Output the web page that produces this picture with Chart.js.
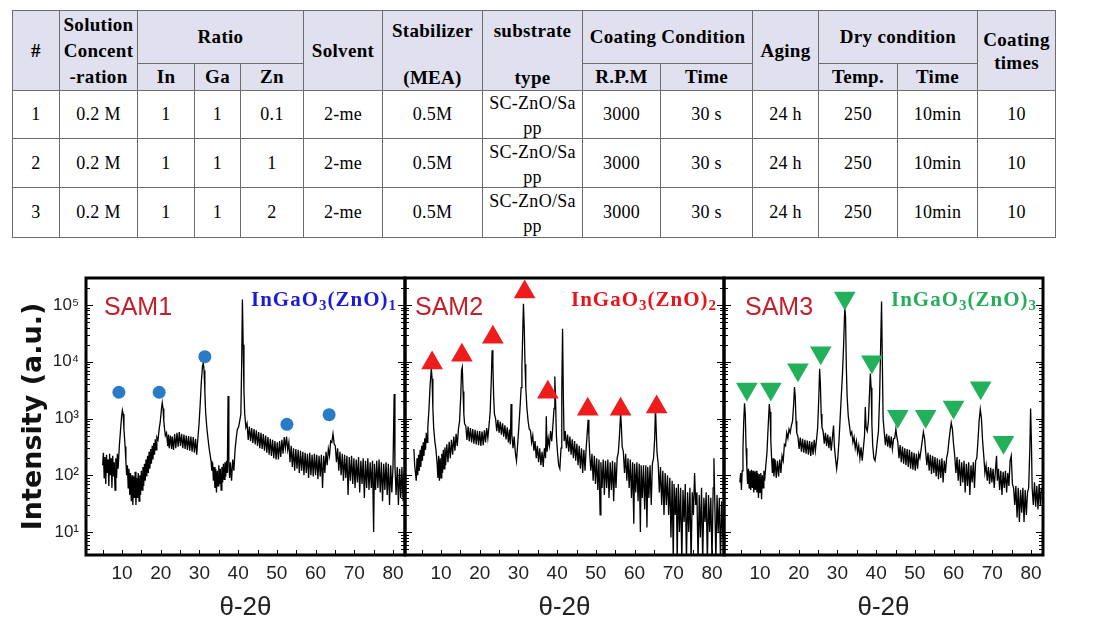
<!DOCTYPE html>
<html lang="en">
<head>
<meta charset="utf-8">
<title>IGZO solution conditions &amp; XRD</title>
<script src="https://cdn.jsdelivr.net/npm/chart.js"></script>
<style>
  body{margin:0;width:1106px;height:641px;background:#fff;position:relative;overflow:hidden;}
  table{position:absolute;left:12px;top:10px;width:1043px;border-collapse:collapse;table-layout:fixed;
        font-family:"Liberation Serif","Times New Roman",serif;color:#000;}
  th,td{border:1px solid #6c6c6c;padding:0;text-align:center;vertical-align:middle;letter-spacing:.3px;}
  th{background:#e1e0ef;font-weight:bold;font-size:19px;line-height:22px;}
  td{font-size:18px;background:#fff;}
  th.sol{vertical-align:top;line-height:26px;padding-top:1px;}
  th.split{vertical-align:top;line-height:20px;padding-top:10px;}
  th.split .lo{margin-top:27px;}
  th.ct{line-height:23px;}
  td .sub{line-height:25px;height:44px;margin-top:-3px;overflow:visible;}
  canvas{position:absolute;top:260px;}
  #c1{left:0;} #c2{left:390px;} #c3{left:709px;}
  .sam{position:absolute;top:294px;font-family:"Liberation Sans",Arial,sans-serif;font-size:25px;line-height:25px;color:#c41e2a;z-index:2;}
  .phase{position:absolute;top:289px;font-family:"Liberation Serif","Times New Roman",serif;font-weight:bold;
         font-size:21px;line-height:21px;letter-spacing:1px;z-index:2;white-space:nowrap;}
  .phase sub{font-size:15px;vertical-align:-4px;line-height:0;}
</style>
</head>
<body>

<table id="cond">
  <colgroup>
    <col style="width:47px"><col style="width:78px"><col style="width:57px"><col style="width:46px">
    <col style="width:63px"><col style="width:79px"><col style="width:100px"><col style="width:100px">
    <col style="width:78px"><col style="width:92px"><col style="width:66px"><col style="width:79px">
    <col style="width:80px"><col style="width:78px">
  </colgroup>
  <thead>
    <tr style="height:53px">
      <th rowspan="2">#</th>
      <th rowspan="2" class="sol">Solution<br>Concent<br>-ration</th>
      <th colspan="3">Ratio</th>
      <th rowspan="2">Solvent</th>
      <th rowspan="2" class="split"><div>Stabilizer</div><div class="lo">(MEA)</div></th>
      <th rowspan="2" class="split"><div>substrate</div><div class="lo">type</div></th>
      <th colspan="2">Coating Condition</th>
      <th rowspan="2">Aging</th>
      <th colspan="2">Dry condition</th>
      <th rowspan="2" class="ct">Coating<br>times</th>
    </tr>
    <tr style="height:27px">
      <th>In</th><th>Ga</th><th>Zn</th><th>R.P.M</th><th>Time</th><th>Temp.</th><th>Time</th>
    </tr>
  </thead>
  <tbody id="condBody"></tbody>
</table>

<canvas id="c1" width="420" height="381"></canvas>
<canvas id="c2" width="350" height="381"></canvas>
<canvas id="c3" width="350" height="381"></canvas>

<div class="sam" style="left:104px">SAM1</div>
<div class="sam" style="left:415px">SAM2</div>
<div class="sam" style="left:745px">SAM3</div>
<div class="phase" style="right:709px;color:#1c1cd6">InGaO<sub>3</sub>(ZnO)<sub>1</sub></div>
<div class="phase" style="right:389px;color:#e8141c">InGaO<sub>3</sub>(ZnO)<sub>2</sub></div>
<div class="phase" style="right:69px;color:#27ad5c">InGaO<sub>3</sub>(ZnO)<sub>3</sub></div>

<script>
/* ── table values ─────────────────────────────────────────── */
const sampleNo      = ['1','2','3'];
const concentration = ['0.2 M','0.2 M','0.2 M'];
const ratioIn       = ['1','1','1'];
const ratioGa       = ['1','1','1'];
const ratioZn       = ['0.1','1','2'];
const solvent       = ['2-me','2-me','2-me'];
const stabilizer    = ['0.5M','0.5M','0.5M'];
const substrate     = ['SC-ZnO/Sa<br>pp','SC-ZnO/Sa<br>pp','SC-ZnO/Sa<br>pp'];
const spinRpm       = ['3000','3000','3000'];
const spinTime      = ['30 s','30 s','30 s'];
const aging         = ['24 h','24 h','24 h'];
const dryTemp       = ['250','250','250'];
const dryTime       = ['10min','10min','10min'];
const coatTimes     = ['10','10','10'];
const rowHeights    = [48,49,50];

/* ── XRD patterns, [2θ, intensity] ────────────────────────── */
const sam1Pattern = [
  [5.0,150],[5.2,250],[5.4,90],[5.6,210],[5.8,70],[6.0,230],[6.2,110],[6.4,190],[6.6,65],[6.8,240],
  [7.0,100],[7.2,200],[7.4,60],[7.6,220],[7.8,95],[8.0,170],[8.2,55],[8.4,200],[8.6,90],[8.8,240],
  [9.0,130],[9.3,320],[9.6,600],[9.9,1100],[10.1,1400],[10.3,1200],[10.5,650],[10.8,320],[11.0,180],[11.2,100],
  [11.4,150],[11.6,60],[11.8,130],[12.0,45],[12.2,110],[12.4,35],[12.6,100],[12.8,30],[13.0,95],[13.2,40],
  [13.4,115],[13.6,30],[13.8,90],[14.0,40],[14.2,110],[14.4,35],[14.6,100],[14.8,45],[15.0,120],[15.2,55],
  [15.4,140],[15.6,65],[15.8,160],[16.0,80],[16.2,190],[16.4,95],[16.6,220],[16.8,110],[17.0,260],[17.2,130],
  [17.4,290],[17.6,160],[17.8,330],[18.0,190],[18.2,370],[18.4,230],[18.6,430],[18.8,280],[19.0,470],[19.3,420],
  [19.6,650],[19.9,900],[20.2,1500],[20.4,1900],[20.6,1500],[20.8,900],[21.0,650],[21.2,500],[21.5,560],[21.8,330],
  [22.0,520],[22.2,300],[22.5,500],[22.8,290],[23.0,480],[23.3,280],[23.6,530],[23.9,300],[24.2,560],[24.5,320],
  [24.8,580],[25.1,330],[25.4,540],[25.7,300],[26.0,520],[26.3,290],[26.6,500],[26.9,280],[27.2,490],[27.5,270],
  [27.8,480],[28.1,260],[28.4,470],[28.7,250],[29.0,440],[29.3,230],[29.6,450],[29.9,800],[30.2,1800],[30.5,4500],
  [30.8,8500],[31.0,9500],[31.2,7000],[31.4,3000],[31.6,1300],[31.9,700],[32.2,450],[32.5,300],[32.8,220],[33.0,180],
  [33.2,120],[33.4,170],[33.6,80],[33.8,140],[34.0,60],[34.2,130],[34.4,50],[34.6,120],[34.8,65],[35.0,150],
  [35.2,70],[35.4,130],[35.6,55],[35.8,140],[36.0,75],[36.2,160],[36.4,85],[36.6,170],[36.8,95],[37.0,180],
  [37.2,110],[37.4,2500],[37.6,150],[37.8,90],[38.0,170],[38.3,80],[38.6,190],[38.9,120],[39.2,280],[39.5,450],
  [39.8,650],[40.1,700],[40.4,900],[40.7,1200],[40.9,8000],[41.1,125000],[41.3,20000],[41.5,3000],[41.7,1200],[42.0,700],
  [42.3,820],[42.6,420],[42.9,720],[43.2,400],[43.5,680],[43.8,370],[44.1,650],[44.4,350],[44.7,620],[45.0,330],
  [45.3,580],[45.6,300],[45.9,560],[46.2,290],[46.5,530],[46.8,270],[47.1,500],[47.4,250],[47.7,470],[48.0,230],
  [48.3,440],[48.6,220],[48.9,420],[49.2,200],[49.5,400],[49.8,190],[50.1,380],[50.4,190],[50.7,400],[51.0,210],
  [51.3,420],[51.6,240],[51.9,470],[52.2,300],[52.5,480],[52.8,280],[53.1,380],[53.4,170],[53.7,330],[54.0,140],
  [54.3,300],[54.6,120],[54.9,290],[55.2,130],[55.5,280],[55.8,110],[56.1,270],[56.4,120],[56.7,260],[57.0,100],
  [57.3,250],[57.6,110],[57.9,240],[58.2,90],[58.5,250],[58.8,100],[59.1,230],[59.4,95],[59.7,240],[60.0,100],
  [60.3,230],[60.6,85],[60.9,220],[61.2,95],[61.5,230],[61.8,60],[62.1,220],[62.4,110],[62.7,260],[63.0,150],
  [63.3,290],[63.6,220],[63.9,400],[64.2,380],[64.5,540],[64.8,360],[65.1,330],[65.4,170],[65.7,300],[66.0,120],
  [66.3,260],[66.6,100],[66.9,240],[67.2,80],[67.5,230],[67.8,90],[68.1,220],[68.4,45],[68.7,210],[69.0,80],
  [69.3,220],[69.6,70],[69.9,200],[70.2,60],[70.5,190],[70.8,75],[71.1,210],[71.4,50],[71.7,180],[72.0,70],
  [72.3,200],[72.6,40],[72.9,180],[73.2,60],[73.5,200],[73.8,55],[74.1,170],[74.4,60],[74.7,180],[75.0,10],
  [75.2,160],[75.5,55],[75.8,180],[76.1,60],[76.4,190],[76.7,50],[77.0,170],[77.3,35],[77.6,160],[77.9,55],
  [78.2,170],[78.5,45],[78.8,160],[79.1,30],[79.4,150],[79.7,50],[80.0,140],[80.3,2700],[80.5,150],[80.8,45],
  [81.1,140],[81.4,30],[81.7,130],[82.0,40],[82.3,140],[82.6,35],[82.9,120]
];

const sam2Pattern = [
  [3.0,290],[3.2,150],[3.4,110],[3.6,80],[3.8,200],[4.0,100],[4.2,230],[4.4,120],[4.6,280],[4.8,140],
  [5.0,330],[5.2,180],[5.4,380],[5.6,220],[5.8,450],[6.0,280],[6.2,560],[6.4,380],[6.6,700],[6.9,1500],
  [7.2,4000],[7.5,7500],[7.7,5000],[7.9,1500],[8.1,700],[8.4,400],[8.7,280],[9.0,160],[9.2,90],[9.4,220],
  [9.6,80],[9.8,200],[10.0,90],[10.2,240],[10.4,110],[10.6,280],[10.8,130],[11.0,310],[11.2,150],[11.5,350],
  [11.8,170],[12.1,390],[12.4,200],[12.7,420],[13.0,230],[13.3,480],[13.6,270],[13.9,540],[14.2,330],[14.5,650],
  [14.8,900],[15.1,2500],[15.3,7000],[15.5,8000],[15.7,3000],[15.9,1200],[16.1,800],[16.4,750],[16.7,420],[17.0,720],
  [17.3,400],[17.6,680],[17.9,380],[18.2,650],[18.5,360],[18.8,630],[19.1,350],[19.4,610],[19.7,340],[20.0,600],
  [20.3,330],[20.6,590],[20.9,340],[21.2,620],[21.5,380],[21.8,680],[22.1,450],[22.4,750],[22.7,1300],[23.0,5000],
  [23.2,16000],[23.4,9000],[23.6,2500],[23.8,1200],[24.1,1000],[24.4,600],[24.7,950],[25.0,560],[25.3,880],[25.6,520],
  [25.9,820],[26.2,480],[26.5,760],[26.8,430],[27.1,700],[27.4,380],[27.7,640],[27.9,350],[28.1,1800],[28.3,520],
  [28.6,300],[28.9,480],[29.2,250],[29.5,180],[29.8,350],[30.1,700],[30.4,1500],[30.7,3500],[30.9,8000],[31.1,30000],
  [31.3,105000],[31.5,40000],[31.7,9000],[31.9,3500],[32.2,1500],[32.5,900],[32.8,650],[33.1,620],[33.4,380],[33.7,500],
  [34.0,270],[34.3,400],[34.6,200],[34.9,330],[35.2,170],[35.5,300],[35.8,150],[36.1,260],[36.4,140],[36.7,300],
  [37.0,200],[37.2,1100],[37.4,260],[37.7,450],[38.0,330],[38.3,600],[38.6,400],[38.9,750],[39.2,1500],[39.4,5500],
  [39.6,2000],[39.8,500],[40.1,250],[40.4,150],[40.7,130],[41.0,300],[41.2,3000],[41.4,38000],[41.6,2500],[41.8,400],
  [42.1,600],[42.4,300],[42.7,520],[43.0,260],[43.3,480],[43.6,230],[43.9,430],[44.2,200],[44.5,400],[44.8,180],
  [45.1,360],[45.4,150],[45.7,330],[46.0,130],[46.3,300],[46.6,110],[46.9,280],[47.2,120],[47.5,300],[47.8,600],
  [48.0,950],[48.2,500],[48.4,250],[48.7,120],[49.0,240],[49.3,80],[49.6,220],[49.9,70],[50.2,200],[50.5,55],
  [50.8,190],[51.1,20],[51.3,170],[51.6,60],[51.9,190],[52.2,45],[52.5,180],[52.8,60],[53.1,190],[53.4,40],
  [53.7,170],[54.0,55],[54.3,180],[54.6,35],[54.9,170],[55.2,60],[55.5,200],[55.8,250],[56.1,500],[56.4,1250],
  [56.6,700],[56.8,320],[57.1,260],[57.4,110],[57.7,240],[58.0,80],[58.3,200],[58.6,60],[58.9,190],[59.2,40],
  [59.5,170],[59.8,14],[60.0,160],[60.3,50],[60.6,170],[60.9,35],[61.2,160],[61.5,10],[61.7,150],[62.0,40],
  [62.3,150],[62.6,25],[62.9,150],[63.2,12],[63.4,140],[63.7,40],[64.0,150],[64.3,30],[64.6,160],[64.9,200],
  [65.2,450],[65.4,1600],[65.6,600],[65.8,250],[66.1,160],[66.4,50],[66.7,140],[67.0,30],[67.3,120],[67.6,20],
  [67.9,110],[68.2,30],[68.5,100],[68.8,20],[69.1,90],[69.4,8],[69.7,80],[70.0,3],[70.2,70],[70.5,20],
  [70.8,60],[71.0,3],[71.3,70],[71.6,10],[71.9,60],[72.2,3],[72.5,55],[72.8,15],[73.1,70],[73.4,3],
  [73.7,50],[74.0,10],[74.3,60],[74.6,3],[74.9,50],[75.2,20],[75.5,110],[75.8,30],[76.1,50],[76.4,3],
  [76.7,45],[77.0,8],[77.3,60],[77.6,3],[77.9,40],[78.2,15],[78.5,50],[78.8,3],[79.1,45],[79.4,10],
  [79.7,40],[80.0,3],[80.3,60],[80.5,200],[80.7,40],[81.0,3],[81.3,45],[81.6,10],[81.9,40],[82.2,3],
  [82.5,35],[82.8,8]
];

const sam3Pattern = [
  [4.8,75],[5.0,110],[5.2,55],[5.4,120],[5.6,300],[5.8,900],[6.0,1850],[6.2,1200],[6.4,300],[6.6,140],
  [6.8,70],[7.0,130],[7.2,60],[7.4,120],[7.6,55],[7.8,125],[8.0,60],[8.2,120],[8.4,50],[8.6,115],
  [8.8,55],[9.0,120],[9.2,50],[9.4,110],[9.6,40],[9.8,105],[10.0,50],[10.2,110],[10.4,38],[10.6,100],
  [10.8,60],[11.0,120],[11.2,80],[11.5,150],[11.8,250],[12.1,700],[12.4,1800],[12.6,1300],[12.8,400],[13.0,200],
  [13.2,110],[13.4,200],[13.6,95],[13.9,190],[14.2,90],[14.5,180],[14.8,95],[15.1,190],[15.4,110],[15.7,220],
  [16.0,180],[16.3,350],[16.6,330],[16.9,560],[17.2,450],[17.5,650],[17.8,560],[18.1,750],[18.4,900],[18.7,1800],
  [18.9,3600],[19.1,2500],[19.3,900],[19.5,550],[19.8,480],[20.1,290],[20.4,460],[20.7,260],[21.0,440],[21.3,250],
  [21.6,420],[21.9,240],[22.2,410],[22.5,230],[22.8,400],[23.1,220],[23.4,390],[23.7,230],[24.0,420],[24.3,270],
  [24.6,420],[24.9,700],[25.2,2500],[25.4,7500],[25.6,4000],[25.8,1200],[26.0,700],[26.3,600],[26.6,360],[26.9,560],
  [27.2,330],[27.5,520],[27.8,300],[28.1,480],[28.4,270],[28.7,460],[29.0,750],[29.2,330],[29.5,200],[29.8,130],
  [30.1,200],[30.4,400],[30.7,1000],[31.0,2500],[31.3,6000],[31.6,20000],[31.9,90000],[32.1,60000],[32.3,8000],[32.5,2500],
  [32.8,1100],[33.1,750],[33.4,520],[33.7,580],[34.0,380],[34.3,470],[34.6,300],[34.9,400],[35.2,250],[35.5,330],
  [35.8,200],[36.1,310],[36.4,180],[36.7,300],[37.0,500],[37.2,1600],[37.4,700],[37.7,600],[38.0,900],[38.3,3000],
  [38.5,6200],[38.7,3500],[38.9,800],[39.1,350],[39.4,200],[39.7,180],[40.0,250],[40.3,400],[40.6,600],[40.9,2500],
  [41.2,25000],[41.4,115000],[41.6,10000],[41.8,1000],[42.1,560],[42.4,340],[42.7,540],[43.0,320],[43.3,500],[43.6,300],
  [43.9,480],[44.2,290],[44.5,440],[44.8,450],[45.1,650],[45.3,500],[45.6,380],[45.9,200],[46.2,340],[46.5,170],
  [46.8,320],[47.1,160],[47.4,300],[47.7,150],[48.0,290],[48.3,140],[48.6,280],[48.9,130],[49.2,260],[49.5,125],
  [49.8,250],[50.1,120],[50.4,240],[50.7,130],[51.0,240],[51.3,200],[51.6,280],[51.9,400],[52.2,580],[52.5,450],
  [52.8,260],[53.1,150],[53.4,250],[53.7,120],[54.0,230],[54.3,105],[54.6,220],[54.9,110],[55.2,210],[55.5,95],
  [55.8,200],[56.1,85],[56.4,190],[56.7,90],[57.0,200],[57.3,75],[57.6,180],[57.9,110],[58.2,200],[58.5,250],
  [58.8,400],[59.1,600],[59.4,840],[59.7,650],[60.0,350],[60.3,220],[60.6,110],[60.9,210],[61.2,80],[61.5,190],
  [61.8,65],[62.1,170],[62.4,75],[62.7,180],[63.0,50],[63.3,160],[63.6,65],[63.9,170],[64.2,45],[64.5,150],
  [64.8,75],[65.1,170],[65.4,60],[65.7,180],[66.0,200],[66.3,400],[66.6,900],[66.9,1450],[67.2,1000],[67.5,400],
  [67.8,220],[68.1,110],[68.4,150],[68.7,80],[69.0,140],[69.3,70],[69.6,135],[69.9,75],[70.2,130],[70.5,60],
  [70.8,120],[71.1,220],[71.3,80],[71.6,130],[71.9,55],[72.2,120],[72.5,45],[72.8,115],[73.1,60],[73.4,120],
  [73.7,50],[74.0,110],[74.3,65],[74.6,180],[74.9,220],[75.2,70],[75.5,60],[75.8,30],[76.1,65],[76.4,18],
  [76.7,60],[77.0,15],[77.3,55],[77.6,22],[77.9,60],[78.2,15],[78.5,55],[78.8,20],[79.1,50],[79.4,60],
  [79.7,300],[79.9,1500],[80.1,400],[80.3,60],[80.6,30],[80.9,75],[81.2,28],[81.5,65],[81.8,25],[82.1,70],
  [82.4,30],[82.7,60]
];

/* ── phase markers ────────────────────────────────────────── */
const zno1Peaks = [[9.2,2900],[19.6,2900],[31.4,12300],[52.6,790],[63.5,1170]];
const zno2Peaks = [[7.7,9500],[15.4,13000],[23.4,27000],[31.6,170000],[37.6,2900],[47.9,1450],[56.4,1450],[65.7,1600]];
const zno3Peaks = [[6.6,3300],[12.8,3300],[19.8,7200],[25.7,14400],[31.9,133000],[38.9,10000],[45.6,1100],[52.8,1100],[60.0,1600],[67.0,3500],[72.9,380]];

/* ── axes ─────────────────────────────────────────────────── */
const xTicks = [10,20,30,40,50,60,70,80];
const yTicks = [10,100,1000,10000,100000];
const supers = {1:'¹',2:'²',3:'³',4:'⁴',5:'⁵'};

/* build the table body */
const body = document.getElementById('condBody');
sampleNo.forEach((n,i)=>{
  const tr = document.createElement('tr');
  tr.style.height = rowHeights[i] + 'px';
  const cells = [n, concentration[i], ratioIn[i], ratioGa[i], ratioZn[i], solvent[i], stabilizer[i],
                 '<div class="sub">'+substrate[i]+'</div>', spinRpm[i], spinTime[i], aging[i],
                 dryTemp[i], dryTime[i], coatTimes[i]];
  tr.innerHTML = cells.map(c=>'<td>'+c+'</td>').join('');
  body.appendChild(tr);
});

/* frame + inward tick marks */
const framePlugin = {
  id:'frame',
  afterDatasetsDraw(chart){
    const {ctx, chartArea:a, scales:{x,y}} = chart;
    ctx.save();
    ctx.strokeStyle = '#000';
    ctx.lineWidth = 1;
    ctx.beginPath();
    for(let v=5; v<=80; v+=5){
      const p = Math.round(x.getPixelForValue(v)) + 0.5;
      ctx.moveTo(p, a.bottom); ctx.lineTo(p, a.bottom - 5);
    }
    for(let d=0; d<=5; d++){
      for(let m=1; m<=9; m++){
        const v = m * Math.pow(10,d);
        if(v < y.min || v > y.max) continue;
        const p = Math.round(y.getPixelForValue(v)) + 0.5;
        const len = m===1 ? 7 : 4;
        ctx.moveTo(a.left, p);  ctx.lineTo(a.left + len, p);
        ctx.moveTo(a.right, p); ctx.lineTo(a.right - len, p);
      }
    }
    ctx.stroke();
    ctx.lineWidth = 3;
    ctx.strokeRect(a.left, a.top, a.right - a.left, a.bottom - a.top);
    ctx.restore();
  }
};

function makePanel(id, pattern, peaks, colour, rotation, radius, showY, pad){
  return new Chart(document.getElementById(id), {
    type:'scatter',
    data:{datasets:[
      {data:peaks, pointStyle: rotation===null ? 'circle' : 'triangle', rotation: rotation || 0,
       pointRadius:radius, backgroundColor:colour, borderColor:colour, borderWidth:0, showLine:false},
      {data:pattern, showLine:true, borderColor:'#000', borderWidth:1.3, pointRadius:0, tension:0}
    ]},
    options:{
      responsive:false, animation:false, devicePixelRatio:1,
      layout:{padding:pad},
      plugins:{legend:{display:false}, tooltip:{enabled:false}},
      scales:{
        x:{
          type:'linear', min:0.7, max:83.1,
          grid:{display:false, drawTicks:false}, border:{display:false},
          afterBuildTicks: s => { s.ticks = xTicks.map(v=>({value:v})); },
          afterFit: s => { s.height = 86; },
          ticks:{autoSkip:false, maxRotation:0, padding:7, color:'#222',
                 font:{family:'"Liberation Sans", Arial, sans-serif', size:19}},
          title:{display:true, text:'θ-2θ', color:'#222', padding:{top:0,bottom:18},
                 font:{family:'"Liberation Sans", Arial, sans-serif', size:26}}
        },
        y:{
          type:'logarithmic', min:3.94, max:299000, display:showY,
          grid:{display:false, drawTicks:false}, border:{display:false},
          afterBuildTicks: s => { s.ticks = yTicks.map(v=>({value:v})); },
          afterFit: s => { s.width = showY ? 86 : 0; },
          ticks:{padding:7, color:'#222', font:{family:'"Liberation Sans", Arial, sans-serif', size:17},
                 callback: v => '10' + supers[Math.round(Math.log10(v))]},
          title:{display:true, text:'Intensity (a.u.)', color:'#111', padding:{top:18,bottom:0},
                 font:{family:'"DejaVu Sans", sans-serif', size:27, weight:'bold'}}
        }
      }
    },
    plugins:[framePlugin]
  });
}

makePanel('c1', sam1Pattern, zno1Peaks, '#2a7bc6', null, 6.5, true,  {left:0, right:15, top:18, bottom:0});
makePanel('c2', sam2Pattern, zno2Peaks, '#ee1c1c', 0,    12.5, false, {left:15, right:16, top:18, bottom:0});
makePanel('c3', sam3Pattern, zno3Peaks, '#22b15a', 180,  12.5, false, {left:15, right:16, top:18, bottom:0});
</script>
</body>
</html>
